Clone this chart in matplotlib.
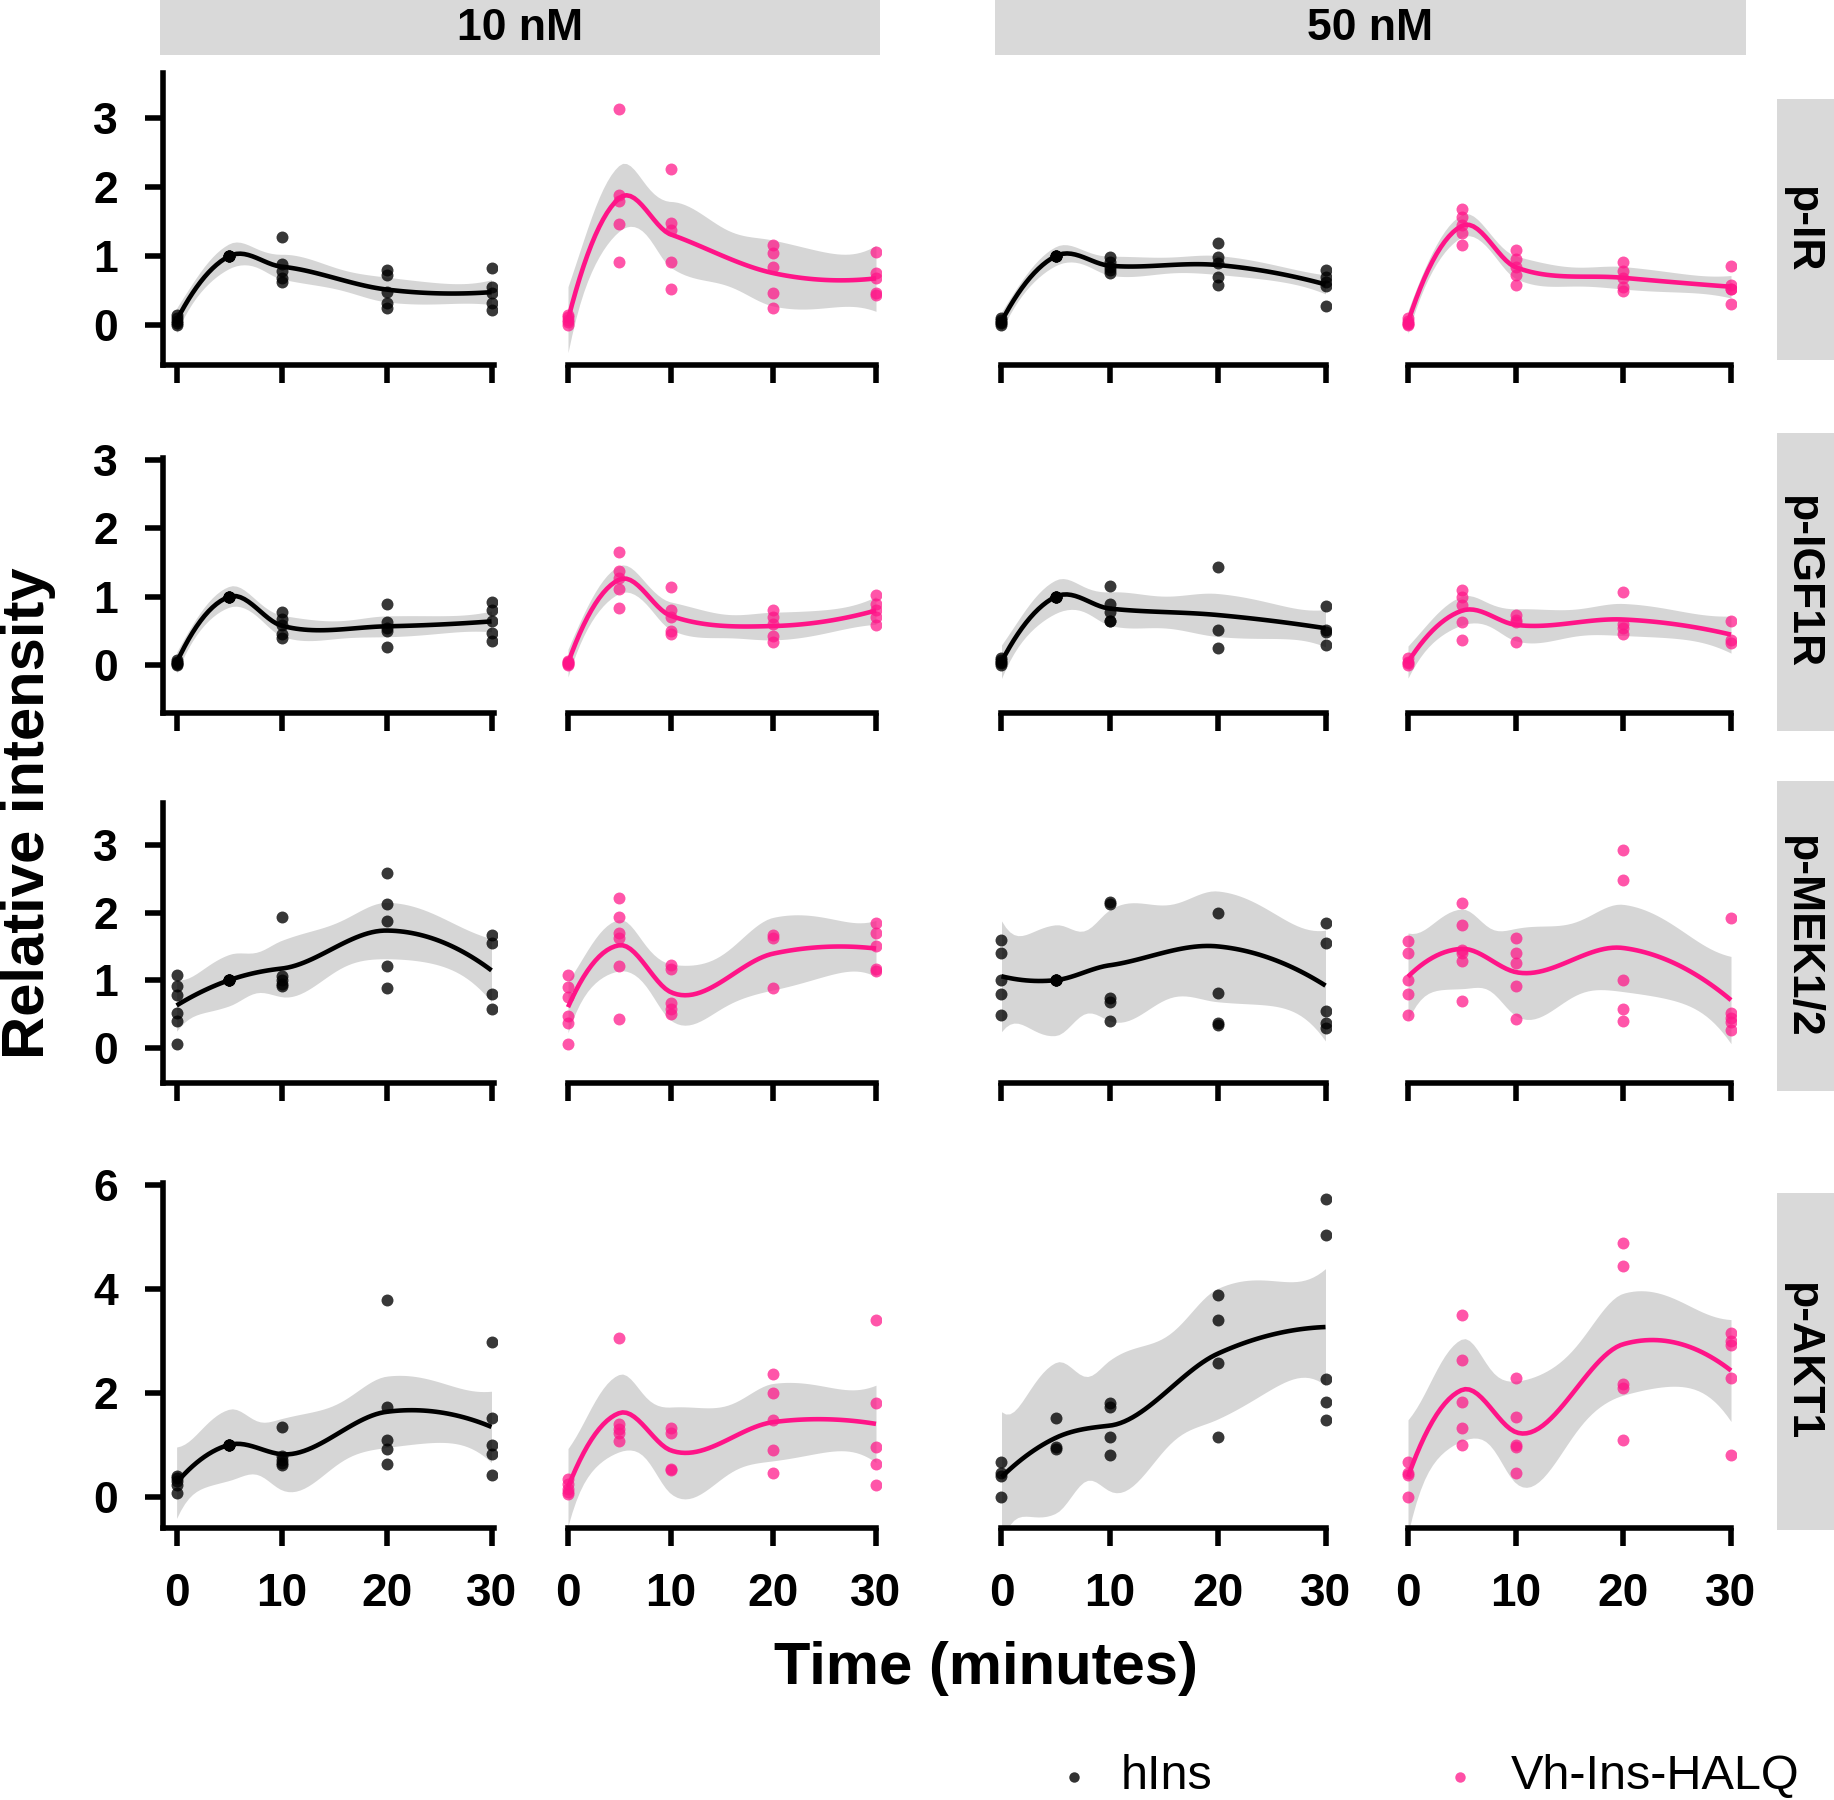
import numpy as np
import matplotlib
matplotlib.use("Agg")
import matplotlib.pyplot as plt
from matplotlib.patches import Rectangle

plt.rcParams['font.family'] = ['Liberation Sans', 'DejaVu Sans']

# ---------------- data ----------------
times = [0, 5, 10, 20, 30]
markers = ['p-IR', 'p-IGF1R', 'p-MEK1/2', 'p-AKT1']
concentrations = ['10 nM', '50 nM']
ligands = ['hIns', 'Vh-Ins-HALQ']
x_ticks = [0, 10, 20, 30]
y_ticks_small = [0, 1, 2, 3]
y_ticks_akt = [0, 2, 4, 6]

# one list of replicate values per time point
IR_10nM_hIns = [[0.0, 0.03, 0.06, 0.10, 0.14], [1, 1, 1, 1, 1],
                [1.28, 0.88, 0.78, 0.68, 0.62], [0.80, 0.73, 0.48, 0.32, 0.25],
                [0.83, 0.55, 0.47, 0.32, 0.22]]
IR_10nM_Vh = [[0.0, 0.04, 0.08, 0.12, 0.15], [3.14, 1.89, 1.80, 1.47, 0.92],
              [2.27, 1.48, 1.38, 0.92, 0.53], [1.16, 1.05, 0.85, 0.46, 0.25],
              [1.06, 0.75, 0.68, 0.46, 0.44]]
IR_50nM_hIns = [[0.0, 0.03, 0.05, 0.08, 0.10], [1, 1, 1, 1, 1],
                [0.99, 0.92, 0.85, 0.80, 0.75], [1.19, 0.99, 0.90, 0.70, 0.58],
                [0.80, 0.70, 0.62, 0.56, 0.27]]
IR_50nM_Vh = [[0.0, 0.03, 0.06, 0.10, 0.02], [1.69, 1.57, 1.45, 1.33, 1.16],
              [1.09, 0.96, 0.85, 0.72, 0.58], [0.92, 0.78, 0.68, 0.55, 0.50],
              [0.86, 0.58, 0.52, 0.52, 0.30]]

IGF_10nM_hIns = [[0.0, 0.02, 0.05, 0.08, 0.03], [1, 1, 1, 1, 1],
                 [0.78, 0.68, 0.58, 0.45, 0.40], [0.90, 0.63, 0.54, 0.50, 0.27],
                 [0.93, 0.80, 0.65, 0.47, 0.35]]
IGF_10nM_Vh = [[0.0, 0.03, 0.06, 0.02, 0.04], [1.66, 1.37, 1.27, 1.12, 0.84],
               [1.15, 0.80, 0.70, 0.50, 0.46], [0.80, 0.70, 0.60, 0.42, 0.34],
               [1.02, 0.90, 0.80, 0.70, 0.58]]
IGF_50nM_hIns = [[0.0, 0.03, 0.07, 0.10, 0.05], [1, 1, 1, 1, 1],
                 [1.16, 0.90, 0.78, 0.65, 0.65], [1.44, 0.51, 0.25],
                 [0.86, 0.52, 0.48, 0.30]]
IGF_50nM_Vh = [[0.0, 0.05, 0.10, 0.03], [1.10, 1.00, 0.88, 0.63, 0.37],
               [0.73, 0.66, 0.63, 0.34], [1.07, 0.60, 0.54, 0.46],
               [0.64, 0.37, 0.33]]

MEK_10nM_hIns = [[1.08, 0.92, 0.78, 0.52, 0.40, 0.06], [1, 1, 1, 1, 1, 1],
                 [1.94, 1.06, 1.00, 0.95, 0.91], [2.58, 2.12, 1.87, 1.21, 0.89],
                 [1.67, 1.55, 0.79, 0.57]]
MEK_10nM_Vh = [[1.08, 0.90, 0.75, 0.47, 0.36, 0.05], [2.21, 1.94, 1.70, 1.62, 1.21, 0.42],
               [1.23, 1.16, 0.66, 0.57, 0.50], [1.67, 1.62, 0.89],
               [1.84, 1.70, 1.50, 1.16, 1.14]]
# the 20-min group includes one value above the visible range (implied by the fit)
MEK_50nM_hIns = [[1.60, 1.40, 1.01, 0.79, 0.49], [1, 1, 1, 1, 1],
                 [2.16, 2.13, 0.74, 0.68, 0.39], [4.00, 1.99, 0.81, 0.36, 0.34],
                 [1.84, 1.55, 0.54, 0.37, 0.30]]
MEK_50nM_Vh = [[1.58, 1.40, 1.00, 0.79, 0.49], [2.14, 1.82, 1.45, 1.40, 1.28, 0.69],
               [1.62, 1.40, 1.25, 0.91, 0.42], [2.93, 2.48, 1.01, 0.57, 0.39],
               [1.92, 0.52, 0.44, 0.38, 0.27]]

AKT_10nM_hIns = [[0.40, 0.36, 0.30, 0.22, 0.08], [1, 1, 1, 1, 1],
                 [1.35, 0.78, 0.71, 0.65, 0.61], [3.79, 1.73, 1.09, 0.93, 0.64],
                 [2.98, 1.51, 0.99, 0.83, 0.42]]
AKT_10nM_Vh = [[0.35, 0.25, 0.16, 0.10, 0.06], [3.05, 1.41, 1.30, 1.22, 1.08],
               [1.32, 1.22, 0.53, 0.51], [2.37, 1.99, 1.48, 0.90, 0.45],
               [3.40, 1.80, 0.96, 0.64, 0.22]]
AKT_50nM_hIns = [[0.67, 0.45, 0.40, 0.0], [1.51, 0.96, 0.93],
                 [1.80, 1.72, 1.16, 0.80], [3.88, 3.40, 2.57, 1.16],
                 [5.73, 5.04, 2.26, 1.83, 1.48]]
AKT_50nM_Vh = [[0.67, 0.45, 0.42, 0.0], [3.50, 2.64, 1.83, 1.32, 0.99],
               [2.28, 1.54, 1.00, 0.96, 0.45], [4.89, 4.44, 2.18, 2.09, 1.09],
               [3.15, 3.00, 2.92, 2.28, 0.80]]

panel_data = [
    [IR_10nM_hIns, IR_10nM_Vh, IR_50nM_hIns, IR_50nM_Vh],
    [IGF_10nM_hIns, IGF_10nM_Vh, IGF_50nM_hIns, IGF_50nM_Vh],
    [MEK_10nM_hIns, MEK_10nM_Vh, MEK_50nM_hIns, MEK_50nM_Vh],
    [AKT_10nM_hIns, AKT_10nM_Vh, AKT_50nM_hIns, AKT_50nM_Vh],
]

# ---------------- loess (R defaults: span .75, degree 2, kd-tree interpolation) ----------------
def qt975(df):
    z = 1.959963985
    g1 = (z**3 + z) / 4
    g2 = (5*z**5 + 16*z**3 + 3*z) / 96
    g3 = (3*z**7 + 19*z**5 + 17*z**3 - 15*z) / 384
    g4 = (79*z**9 + 776*z**7 + 1482*z**5 - 1920*z**3 - 945*z) / 92160
    return z + g1/df + g2/df**2 + g3/df**3 + g4/df**4


def kd_vertices(x, fc):
    xs = np.sort(np.asarray(x, float))
    n = len(xs)
    mu = 0.005 * max(xs[-1] - xs[0], 1e-10 * max(abs(xs[0]), abs(xs[-1])) + 1e-30)
    lo, hi = xs[0] - mu, xs[-1] + mu
    verts = {lo, hi}

    def X(i):
        return xs[i - 1]

    def rec(l, u, vlo, vhi):
        if u - l + 1 <= fc:
            return
        m = (l + u) // 2
        offset = 0
        while True:
            if (m + offset >= u) or (m + offset < l):
                break
            if X(m + offset) == X(m + offset + 1):
                offset = -offset
                if offset >= 0:
                    offset += 1
            else:
                m = m + offset
                break
        t = X(m)
        if t == vlo or t == vhi:
            return
        verts.add(t)
        rec(l, m, vlo, t)
        rec(m + 1, u, t, vhi)

    rec(1, n, lo, hi)
    return np.array(sorted(verts))


def loess_smooth(x, y, grid, span=0.75, cell=0.2):
    x = np.asarray(x, float)
    y = np.asarray(y, float)
    n = len(x)
    q = int(np.floor(n * span))
    fc = int(np.floor(n * span * cell))
    verts = kd_vertices(x, fc)
    eps = np.finfo(float).eps
    V, S = [], []
    for v in verts:
        d = np.abs(x - v)
        rho = np.sort(d)[q - 1]
        u = np.clip(d / rho, 0, 1)
        w = (1 - u**3)**3
        sw = np.sqrt(w)
        Xd = np.column_stack([np.ones(n), x - v, (x - v)**2])
        B = Xd * sw[:, None]
        norms = np.sqrt((B**2).sum(axis=0))
        norms[norms == 0] = 1.0
        P = np.linalg.pinv(B / norms, rcond=100 * eps)
        A = (P * sw[None, :]) / norms[:, None]
        V.append(A[0]); S.append(A[1])
    V = np.array(V); S = np.array(S)

    def op(x0):
        i = int(np.clip(np.searchsorted(verts, x0, side='right') - 1, 0, len(verts) - 2))
        h = verts[i + 1] - verts[i]
        t = (x0 - verts[i]) / h
        h00 = 2*t**3 - 3*t**2 + 1
        h10 = t**3 - 2*t**2 + t
        h01 = -2*t**3 + 3*t**2
        h11 = t**3 - t**2
        return h00*V[i] + h10*h*S[i] + h01*V[i+1] + h11*h*S[i+1]

    L = np.array([op(xi) for xi in x])
    R = np.eye(n) - L
    M = R.T @ R
    d1 = np.trace(M)
    d2 = np.trace(M @ M)
    sigma = np.sqrt(np.sum((R @ y)**2) / d1)
    dfree = d1**2 / d2
    Lg = np.array([op(g) for g in grid])
    fit = Lg @ y
    se = sigma * np.sqrt(np.sum(Lg**2, axis=1))
    tq = qt975(dfree)
    return fit, fit - tq*se, fit + tq*se

# ---------------- layout (pixels) ----------------
W, H = 1834, 1800
fig = plt.figure(figsize=(W/100, H/100), dpi=100)

col_px = [(176.6, 491.5), (568.0, 876.0), (1001.5, 1325.5), (1408.0, 1731.0)]
row_px = [(73, 365), (458, 713), (803, 1083), (1183, 1528)]
row_ylim = [(-0.58, 3.66), (-0.70, 3.03), (-0.52, 3.62), (-0.60, 6.04)]
XLIM = (-1.25, 30.5)

pt_colors = ['#000000', '#FF1488']
line_colors = ['#000000', '#FF1488']

# overlay for strips, titles, legend
ov = fig.add_axes([0, 0, 1, 1])
ov.set_xlim(0, W); ov.set_ylim(H, 0); ov.axis('off')

strip_col = '#D9D9D9'
ov.add_patch(Rectangle((160, 0), 720, 55, color=strip_col, lw=0))
ov.add_patch(Rectangle((995, 0), 751, 55, color=strip_col, lw=0))
ov.text(520, 29, concentrations[0], ha='center', va='center', fontsize=32, weight='bold')
ov.text(1370, 29, concentrations[1], ha='center', va='center', fontsize=32, weight='bold')

right_strips = [(99, 360), (433, 731), (781, 1091), (1193, 1530)]
for (t, b), lab in zip(right_strips, markers):
    ov.add_patch(Rectangle((1777, t), 70, b - t, color=strip_col, lw=0))
    ov.text(1802, (t + b) / 2, lab, rotation=270, ha='center', va='center',
            fontsize=32, weight='bold')

ov.text(29, 813, 'Relative intensity', rotation=90, ha='center', va='center',
        fontsize=43, weight='bold')
ov.text(986, 1684, 'Time (minutes)', ha='center', va='baseline',
        fontsize=43, weight='bold')

# legend
ov.plot([1074], [1777], 'o', ms=7.5, color='#333333', mew=0)
ov.text(1121, 1789, ligands[0], ha='left', va='baseline', fontsize=35)
ov.plot([1460], [1777], 'o', ms=7.5, color='#FF4FA6', mew=0)
ov.text(1511, 1789, ligands[1], ha='left', va='baseline', fontsize=35)

SPINE_W = 4.0
for r in range(4):
    top, bot = row_px[r]
    for c in range(4):
        x0p, x30p = col_px[c]
        ppu = (x30p - x0p) / 30.0
        left = x0p + XLIM[0] * ppu
        right = x0p + XLIM[1] * ppu
        ax = fig.add_axes([left / W, 1 - bot / H, (right - left) / W, (bot - top) / H])
        ax.set_facecolor('none')
        ax.set_xlim(*XLIM)
        ax.set_ylim(*row_ylim[r])
        lig = c % 2
        groups = panel_data[r][c]
        xs = np.concatenate([[t] * len(g) for t, g in zip(times, groups)])
        ys = np.concatenate([np.asarray(g, float) for g in groups])
        grid = np.linspace(xs.min(), xs.max(), 80)
        fit, lo, hi = loess_smooth(xs, ys, grid)
        ax.fill_between(grid, lo, hi, color='#999999', alpha=0.4, lw=0, zorder=1)
        ax.scatter(xs, ys, s=74, color=pt_colors[lig], alpha=0.78 if lig == 0 else 0.72,
                   lw=0, zorder=2)
        ax.plot(grid, fit, color=line_colors[lig], lw=3.3, zorder=3,
                solid_capstyle='butt')

        for s in ['top', 'right']:
            ax.spines[s].set_visible(False)
        ax.spines['bottom'].set_linewidth(SPINE_W)
        ax.spines['left'].set_linewidth(SPINE_W)
        ax.spines['bottom'].set_capstyle('projecting')
        ax.spines['left'].set_capstyle('projecting')
        ax.set_xticks(x_ticks)
        if c == 0:
            ax.spines['bottom'].set_bounds(XLIM[0], 30.2)
            ax.set_yticks(y_ticks_akt if r == 3 else y_ticks_small)
            ax.tick_params(axis='y', length=13, width=SPINE_W, pad=20,
                           labelsize=32)
            for lab in ax.get_yticklabels():
                lab.set_fontweight('bold')
        else:
            ax.spines['left'].set_visible(False)
            ax.spines['bottom'].set_bounds(0, 30)
            ax.set_yticks([])
        ax.tick_params(axis='x', length=13, width=SPINE_W, pad=19, labelsize=33,
                       labelbottom=(r == 3))
        if r == 3:
            for lab in ax.get_xticklabels():
                lab.set_fontweight('bold')

fig.savefig('out.png', dpi=100)
